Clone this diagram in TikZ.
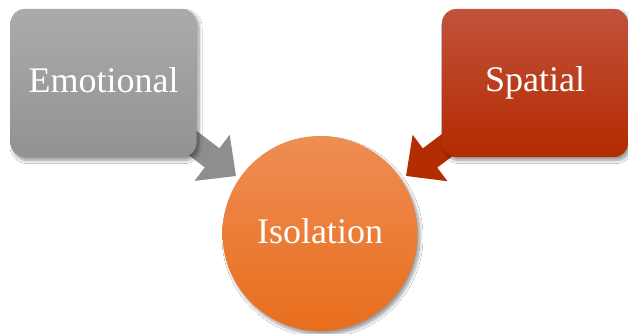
\documentclass[tikz,border=0pt]{standalone}
\usepackage{fontspec}
\setmainfont{Liberation Serif}
\usetikzlibrary{arrows.meta,shadows.blur}
\definecolor{graytop}{HTML}{ABABAB}
\definecolor{graybot}{HTML}{929292}
\definecolor{grayarrow}{HTML}{8E8E8E}
\definecolor{redtop}{HTML}{C2523C}
\definecolor{redbot}{HTML}{B32A00}
\definecolor{redarrow}{HTML}{B32C02}
\definecolor{orangetop}{HTML}{EF8D54}
\definecolor{orangebot}{HTML}{E86E1C}
\begin{document}
\begin{tikzpicture}[x=1pt,y=-1pt,
  softshadow/.style={blur shadow={shadow xshift=2.5pt,shadow yshift=-3.5pt,shadow blur steps=8,shadow blur radius=3pt,shadow opacity=40}},
  box/.style={rounded corners=14pt,minimum width=186pt,minimum height=148pt,text=white,
    font=\fontsize{36}{40}\selectfont,softshadow},
  bigarrow/.style={line width=24pt,-{Triangle[length=30pt,width=56pt]}},
  arrowshadow/.style={bigarrow,draw=black,opacity=0.12,shift={(2,3)}}
]
\useasboundingbox[fill=white] (0,0) rectangle (628,334);
\coordinate (estart) at (165,122);
\coordinate (etip) at (236,176);
\coordinate (sstart) at (470,128);
\coordinate (stip) at (406,176);
\draw[arrowshadow] (estart) -- (etip);
\draw[arrowshadow] (sstart) -- (stip);
\draw[bigarrow,draw=grayarrow,fill=grayarrow] (estart) -- (etip);
\draw[bigarrow,draw=redarrow,fill=redarrow] (sstart) -- (stip);
\node[box,top color=graytop,bottom color=graybot] (emo) at (103.5,83) {\raisebox{5pt}{Emotional}};
\node[box,top color=redtop,bottom color=redbot] (spa) at (535,83) {\raisebox{5pt}{Spatial}};
\node[circle,minimum size=195pt,inner sep=0pt,top color=orangetop,bottom color=orangebot,
  text=white,font=\fontsize{36}{40}\selectfont,softshadow] (iso) at (320,233.5) {\raisebox{4pt}{Isolation}};
\end{tikzpicture}
\end{document}
